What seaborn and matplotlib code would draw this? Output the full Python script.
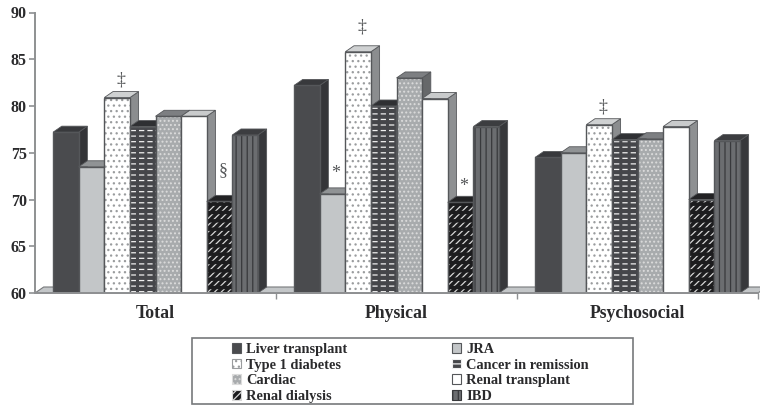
import matplotlib
matplotlib.use('Agg')
import matplotlib.pyplot as plt
from matplotlib.patches import Patch, Polygon, Rectangle
import pandas as pd
import seaborn as sns

domains = ['Total', 'Physical', 'Psychosocial']
groups = ['Liver transplant', 'JRA', 'Type 1 diabetes', 'Cancer in remission', 'Cardiac', 'Renal transplant', 'Renal dialysis', 'IBD']

total = [77.2, 73.5, 80.9, 77.8, 78.9, 78.9, 69.8, 76.9]
physical = [82.2, 70.6, 85.8, 80.0, 83.0, 80.8, 69.7, 77.8]
psychosocial = [74.5, 75.0, 78.0, 76.4, 76.5, 77.8, 70.0, 76.3]

# annotations: group, bar, symbol, height
marks = [(0, 2, '\u2021', 82.8), (0, 6, '\u00a7', 73.1), (1, 1, '*', 72.8), (1, 2, '\u2021', 88.5), (1, 6, '*', 71.4), (2, 2, '\u2021', 79.9)]

front = ['#4a4b4e', '#c3c6c8', '#ffffff', '#45464a', '#a8abad', '#ffffff', '#1c1c1e', '#6b6d70']
hatch_col = [None, None, '#9a9c9e', '#f0f0f0', '#dcdcdc', None, '#d8d8d8', '#38393c']
hatches = [None, None, '...', '---', '....', None, '/////', '|||']
top = ['#38393c', '#909395', '#cfd1d2', '#2f3033', '#7d7f82', '#c9cbcc', '#222224', '#3c3d40']
side = ['#343538', '#9a9c9e', '#8b8d8f', '#343538', '#66686a', '#8e9092', '#1c1c1e', '#37383b']

df = pd.DataFrame({'domain': domains * len(groups),
                   'group': [g for g in groups for d in domains],
                   'score': [v[i] for i in range(len(groups)) for v in (total, physical, psychosocial)]})

plt.rcParams['font.family'] = ['Liberation Serif', 'DejaVu Serif']
plt.rcParams['font.weight'] = 'bold'
plt.rcParams['hatch.linewidth'] = 0.9

fig = plt.figure(figsize=(7.6, 4.08), dpi=100)
ax = fig.add_axes([35 / 760, 1 - 293 / 408, 723 / 760, 280.5 / 408])

sns.barplot(data=df, x='domain', y='score', hue='group', order=domains, hue_order=groups,
            width=0.85, gap=0, dodge=True, legend=False, ax=ax, errorbar=None)

ax.set_xlim(-0.5, 2.5)
ax.set_ylim(60, 90)

dx = 8.7 / 241
dy = 6 / 9.35
edge = '#55575a'

# floor behind the bars
ax.add_patch(Polygon([(-0.5, 60), (-0.5 + dx, 60 + dy), (2.5 + dx, 60 + dy), (2.5, 60)], closed=True,
                     fc='#c3c6c8', ec='#77797b', lw=0.8, zorder=1, clip_on=False))

bars = ax.containers
for i, cont in enumerate(bars):
    for j, bar in enumerate(cont):
        x0 = bar.get_x()
        w = bar.get_width()
        h = bar.get_y() + bar.get_height()
        z = 2 + j * 10 + i
        bar.set_zorder(z)
        bar.set_facecolor(front[i])
        bar.set_linewidth(0)
        if hatches[i]:
            bar.set_hatch(hatches[i])
            bar.set_edgecolor(hatch_col[i])
        # brick and slash patterns are broken up with a second hatch
        if i == 3:
            over = Rectangle((x0, 60), w, h - 60, fc='none', ec=front[i], hatch='||', lw=0, zorder=z)
            over.set_hatch_linewidth(2.2)
            ax.add_patch(over)
        if i == 6:
            over = Rectangle((x0, 60), w, h - 60, fc='none', ec=front[i], hatch='--', lw=0, zorder=z)
            over.set_hatch_linewidth(2.5)
            ax.add_patch(over)
        ax.add_patch(Rectangle((x0, 60), w, h - 60, fc='none', ec=edge, lw=1.0, zorder=z))
        ax.add_patch(Polygon([(x0 + w, 60), (x0 + w + dx, 60 + dy), (x0 + w + dx, h + dy), (x0 + w, h)], closed=True,
                             fc=side[i], ec=edge, lw=0.6, zorder=z - 0.5))
        ax.add_patch(Polygon([(x0, h), (x0 + dx, h + dy), (x0 + w + dx, h + dy), (x0 + w, h)], closed=True,
                             fc=top[i], ec=edge, lw=0.6, zorder=z - 0.5))

for g, b, sym, y in marks:
    bar = bars[b][g]
    x = bar.get_x() + bar.get_width() / 2 + dx * 0.4
    ax.text(x, y, sym, ha='center', va='center', fontsize=13, color='#555759', fontweight='normal', zorder=200)

for s in ['top', 'right']:
    ax.spines[s].set_visible(False)
for s in ['left', 'bottom']:
    ax.spines[s].set_color('#8e9092')
    ax.spines[s].set_linewidth(1.4)
    ax.spines[s].set_zorder(150)

ax.set_yticks(range(60, 95, 5))
ax.tick_params(axis='y', labelsize=11.5, colors='#2a2a2c', length=4.3, width=1.2, color='#8e9092', pad=1.5)
ax.set_xticks([0.5, 1.5, 2.5], minor=True)
ax.tick_params(axis='x', which='minor', length=4, width=1, color='#8e9092')
ax.tick_params(axis='x', which='major', length=0, labelsize=12.8, labelcolor='#2a2a2c', pad=9)
ax.set_xlabel('')
ax.set_ylabel('')
for lab in ax.get_yticklabels() + ax.get_xticklabels():
    lab.set_fontweight('bold')

# legend box is drawn on its own so the entries can sit well inside it
fig.add_artist(Rectangle((192 / 760, 1 - 404 / 408), 441 / 760, 66 / 408, transform=fig.transFigure,
                         fc='white', ec='#77797b', lw=1.2))

# legend reads row by row, matplotlib fills by column
handles = []
for i in [0, 2, 4, 6, 1, 3, 5, 7]:
    handles.append(Patch(fc=front[i], ec=edge if hatch_col[i] is None else hatch_col[i], hatch=hatches[i], lw=0.8, label=groups[i]))
leg = fig.legend(handles=handles, ncol=2, loc='upper left', bbox_to_anchor=(232 / 760, 1 - 343 / 408),
                 fontsize=10.4, frameon=False, handlelength=0.65, handleheight=0.65, handletextpad=0.35,
                 labelspacing=0.18, columnspacing=7.2, borderpad=0, borderaxespad=0)
for t in leg.get_texts():
    t.set_color('#2a2a2c')

fig.savefig('out.png', dpi=100)
